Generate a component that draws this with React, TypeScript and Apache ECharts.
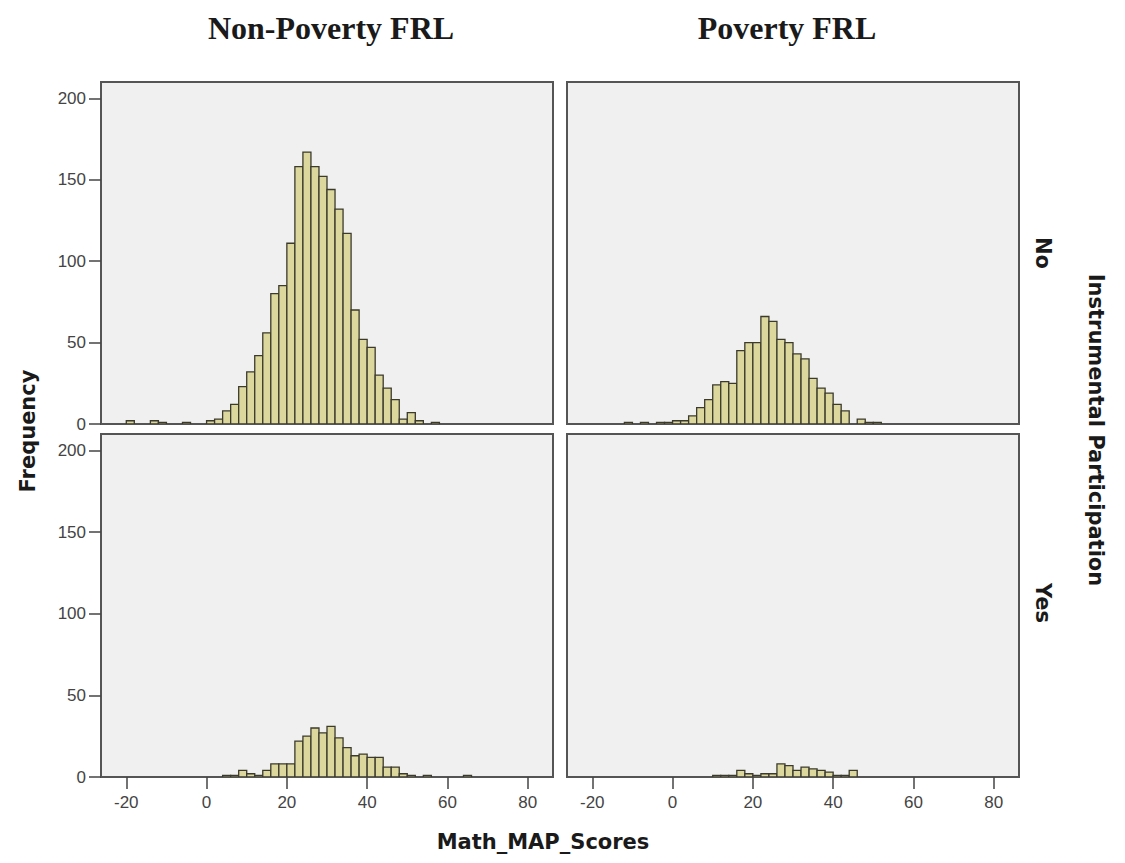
import React, { useEffect, useRef } from "react";
import * as echarts from "echarts";

// ---- data (bin centers; bin width = 2) ----
const BIN_WIDTH = 2;

const nonPovertyNoBins = [-19, -13, -11, -5, 1, 3, 5, 7, 9, 11, 13, 15, 17, 19, 21, 23, 25, 27, 29, 31, 33, 35, 37, 39, 41, 43, 45, 47, 49, 51, 53, 57];
const nonPovertyNoCounts = [2, 2, 1, 1, 2, 3, 8, 12, 23, 32, 42, 56, 80, 85, 111, 158, 167, 158, 152, 144, 132, 117, 70, 52, 47, 30, 22, 15, 3, 7, 2, 1];

const povertyNoBins = [-11, -7, -3, -1, 1, 3, 5, 7, 9, 11, 13, 15, 17, 19, 21, 23, 25, 27, 29, 31, 33, 35, 37, 39, 41, 43, 47, 49, 51];
const povertyNoCounts = [1, 1, 1, 1, 2, 2, 5, 10, 15, 24, 26, 25, 45, 50, 50, 66, 63, 52, 50, 43, 40, 28, 22, 19, 12, 8, 3, 1, 1];

const nonPovertyYesBins = [5, 7, 9, 11, 13, 15, 17, 19, 21, 23, 25, 27, 29, 31, 33, 35, 37, 39, 41, 43, 45, 47, 49, 51, 55, 65];
const nonPovertyYesCounts = [1, 1, 4, 2, 1, 4, 8, 8, 8, 22, 25, 30, 27, 31, 24, 18, 13, 14, 12, 12, 6, 6, 2, 1, 1, 1];

const povertyYesBins = [11, 13, 15, 17, 19, 21, 23, 25, 27, 29, 31, 33, 35, 37, 39, 41, 43, 45];
const povertyYesCounts = [1, 1, 1, 4, 2, 1, 2, 2, 8, 7, 4, 6, 5, 4, 3, 1, 1, 4];

const xTickValues = [-20, 0, 20, 40, 60, 80];
const yTickValues = [0, 50, 100, 150, 200];

const columnTitles = ["Non-Poverty FRL", "Poverty FRL"];
const rowLabels = ["No", "Yes"];
const xAxisTitle = "Math_MAP_Scores";
const yAxisTitle = "Frequency";
const rowTitle = "Instrumental Participation";

const X_MIN = -26.3;
const X_MAX = 86.3;
const Y_MIN = 0;
const Y_MAX = 210;

const panels = [
  { bins: nonPovertyNoBins, counts: nonPovertyNoCounts },
  { bins: povertyNoBins, counts: povertyNoCounts },
  { bins: nonPovertyYesBins, counts: nonPovertyYesCounts },
  { bins: povertyYesBins, counts: povertyYesCounts },
];

const GRIDS = [
  { left: 101, top: 82, width: 452, height: 342 },
  { left: 567, top: 82, width: 452, height: 342 },
  { left: 101, top: 434, width: 452, height: 343 },
  { left: 567, top: 434, width: 452, height: 343 },
];

const BAR_FILL = "#dcd79c";
const BAR_STROKE = "#3b3a2c";
const PANEL_BG = "#f0f0f0";
const FRAME = "#555";
const TICK_COLOR = "#444";
const SANS = "DejaVu Sans";

export default function App() {
  const ref = useRef<HTMLDivElement>(null);

  useEffect(() => {
    if (!ref.current) return;
    const chart = echarts.init(ref.current, undefined, { renderer: "svg" });

    const grid = GRIDS.map((g) => ({
      ...g,
      show: true,
      backgroundColor: PANEL_BG,
      borderColor: FRAME,
      borderWidth: 2,
    }));

    const xAxis = GRIDS.map((_, i) => {
      const bottom = i >= 2;
      return {
        type: "value",
        gridIndex: i,
        min: X_MIN,
        max: X_MAX,
        position: "bottom",
        axisLine: { show: false, onZero: false },
        splitLine: { show: false },
        axisTick: {
          show: bottom,
          length: 12,
          customValues: xTickValues,
          lineStyle: { color: TICK_COLOR, width: 1.5 },
        },
        axisLabel: {
          show: bottom,
          customValues: xTickValues,
          margin: 17,
          color: TICK_COLOR,
          fontFamily: "Liberation Sans",
          fontSize: 17,
        },
      };
    });

    const yAxis = GRIDS.map((_, i) => {
      const left = i % 2 === 0;
      return {
        type: "value",
        gridIndex: i,
        min: Y_MIN,
        max: Y_MAX,
        position: "left",
        axisLine: { show: false, onZero: false },
        splitLine: { show: false },
        axisTick: {
          show: left,
          length: 12,
          customValues: yTickValues,
          lineStyle: { color: TICK_COLOR, width: 1.5 },
        },
        axisLabel: {
          show: left,
          customValues: yTickValues,
          margin: 15,
          color: TICK_COLOR,
          fontFamily: "Liberation Sans",
          fontSize: 17,
        },
      };
    });

    const series = panels.map((p, i) => ({
      type: "custom",
      xAxisIndex: i,
      yAxisIndex: i,
      clip: true,
      data: p.bins.map((b, k) => [b, p.counts[k]]),
      renderItem: (params: any, api: any) => {
        const c = api.value(0);
        const n = api.value(1);
        const p0 = api.coord([c - BIN_WIDTH / 2, n]);
        const p1 = api.coord([c + BIN_WIDTH / 2, 0]);
        return {
          type: "rect",
          shape: { x: p0[0], y: p0[1], width: p1[0] - p0[0], height: p1[1] - p0[1] },
          style: { fill: BAR_FILL, stroke: BAR_STROKE, lineWidth: 1.3 },
        };
      },
    }));

    const textStyle = (text: string, font: string) => ({
      text,
      font,
      fill: "#1a1a1a",
      align: "center",
      verticalAlign: "middle",
    });

    const graphic: any[] = [
      { type: "text", x: 331, y: 28, style: textStyle(columnTitles[0], "bold 32px 'Liberation Serif'") },
      { type: "text", x: 787, y: 28, style: textStyle(columnTitles[1], "bold 32px 'Liberation Serif'") },
      { type: "text", x: 28, y: 431, rotation: Math.PI / 2, style: textStyle(yAxisTitle, `bold 21px '${SANS}'`) },
      { type: "text", x: 543, y: 842, style: textStyle(xAxisTitle, `bold 21px '${SANS}'`) },
      { type: "text", x: 1043, y: 253, rotation: -Math.PI / 2, style: textStyle(rowLabels[0], `bold 21px '${SANS}'`) },
      { type: "text", x: 1043, y: 603, rotation: -Math.PI / 2, style: textStyle(rowLabels[1], `bold 21px '${SANS}'`) },
      { type: "text", x: 1096, y: 430, rotation: -Math.PI / 2, style: textStyle(rowTitle, `bold 21px '${SANS}'`) },
    ];

    chart.setOption({
      animation: false,
      backgroundColor: "#fff",
      grid,
      xAxis,
      yAxis,
      series,
      graphic,
    });

    return () => chart.dispose();
  }, []);

  return (
    <div
      ref={ref}
      style={{ position: "absolute", left: 0, top: 0, width: 1125, height: 863 }}
    />
  );
}
